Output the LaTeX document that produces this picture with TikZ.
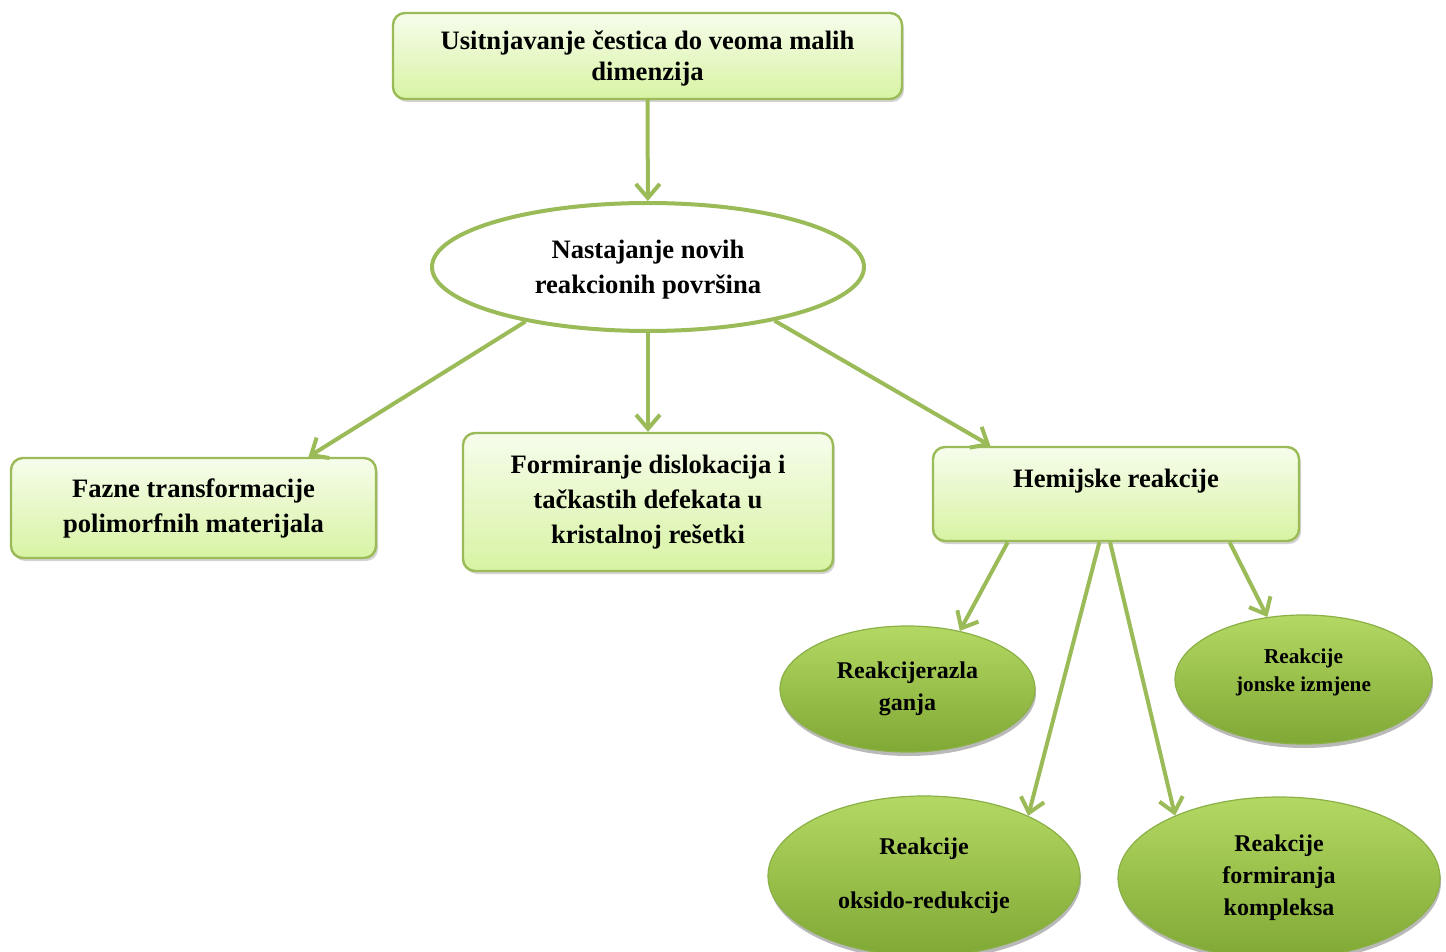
\documentclass[tikz,border=0pt]{standalone}
\usepackage{fontspec}
\setmainfont{Liberation Serif}
\usetikzlibrary{arrows.meta,shadows,shapes.geometric}
\definecolor{olgreen}{RGB}{155,187,89}
\definecolor{boxtop}{RGB}{246,253,236}
\definecolor{boxbot}{RGB}{216,243,163}
\definecolor{leaftop}{RGB}{180,216,100}
\definecolor{leafbot}{RGB}{128,168,52}
\definecolor{leafline}{RGB}{138,176,70}

\begin{document}
\begin{tikzpicture}[x=0.5pt,y=-0.5pt,
    box/.style={draw=olgreen,line width=1.2pt,rounded corners=6pt,top color=boxtop,bottom color=boxbot,
      align=center,font=\fontsize{13.3}{17.5}\selectfont\bfseries,
      drop shadow={shadow xshift=1pt,shadow yshift=-1.5pt,opacity=0.35}},
    oval/.style={ellipse,draw=olgreen,line width=2pt,fill=white,align=center,
      font=\fontsize{13.3}{17.5}\selectfont\bfseries},
    leaf/.style={ellipse,draw=leafline,line width=0.6pt,top color=leaftop,bottom color=leafbot,align=center,
      font=\fontsize{12}{16}\selectfont\bfseries,
      drop shadow={shadow xshift=0.5pt,shadow yshift=-2pt,opacity=0.55}},
    link/.style={draw=olgreen,line width=2pt,-{Straight Barb[length=7pt,width=12pt]}}]
    \useasboundingbox (0,0) rectangle (1446,952);
    \node[box,minimum width=254.5pt,minimum height=43pt,text depth=0pt] (usit) at (647.5,56)
      {Usitnjavanje čestica do veoma malih\\[-2pt]dimenzija};
    \node[oval,minimum width=216pt,minimum height=64pt,text depth=0pt] (nast) at (648,267) {Nastajanje novih\\reakcionih površina};
    \node[box,minimum width=182.5pt,minimum height=50pt] (fazne) at (193.5,508) {Fazne transformacije\\polimorfnih materijala};
    \node[box,minimum width=185pt,minimum height=69pt] (disl) at (648,502) {Formiranje dislokacija i\\tačkastih defekata u\\kristalnoj rešetki};
    \node[box,minimum width=183pt,minimum height=47pt,text depth=16pt] (hem) at (1116,494) {Hemijske reakcije};
    \node[leaf,minimum width=127.5pt,minimum height=63pt] (razl) at (907.5,689) {Reakcijerazla\\ganja};
    \node[leaf,minimum width=128.5pt,minimum height=64.5pt,text depth=9pt,font=\fontsize{10.6}{14}\selectfont\bfseries] (jon) at (1303.5,679.5) {Reakcije\\jonske izmjene};
    \node[leaf,minimum width=156pt,minimum height=80pt] (oks) at (924,876) {Reakcije\\[11pt]oksido-redukcije};
    \node[leaf,minimum width=161pt,minimum height=81pt] (kompl) at (1279,878) {Reakcije\\formiranja\\kompleksa};
    % connectors
    \draw[link] (usit)--(nast); \draw[link] (nast.204)--(fazne.24); \draw[link] (nast)--(disl);
    \draw[link] (nast.337)--(hem.159);
    \draw[link] (hem.-156)--(razl.48); \draw[link] (hem.-109)--(oks.30);
    \draw[link] (hem.-97)--(kompl.149); \draw[link] (hem.-23)--(jon.120);
  \end{tikzpicture}
\end{document}
